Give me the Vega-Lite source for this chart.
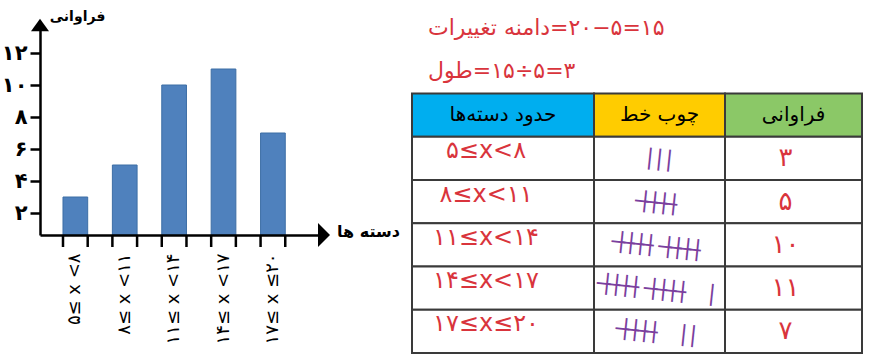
{
  "$schema": "https://vega.github.io/schema/vega-lite/v6.json",
  "width": 873,
  "height": 356,
  "autosize": {"type": "none"},
  "padding": 0,
  "background": "white",
  "config": {"view": {"stroke": null}, "font": "DejaVu Sans", "text": {"font": "DejaVu Sans"}},
  "datasets": {
    "bars": [
      {"cls": "۵≤ x <۸", "freq": 3},
      {"cls": "۸≤ x <۱۱", "freq": 5},
      {"cls": "۱۱≤ x <۱۴", "freq": 10},
      {"cls": "۱۴≤ x <۱۷", "freq": 11},
      {"cls": "۱۷≤ x ≤۲۰", "freq": 7}
    ],
    "cells": [
      {"col": "c1", "row": "h", "text": "حدود دسته‌ها"},
      {"col": "c2", "row": "h", "text": "چوب خط"},
      {"col": "c3", "row": "h", "text": "فراوانی"},
      {"col": "c1", "row": "r1", "text": "۵≤x<۸"},
      {"col": "c1", "row": "r2", "text": "۸≤x<۱۱"},
      {"col": "c1", "row": "r3", "text": "۱۱≤x<۱۴"},
      {"col": "c1", "row": "r4", "text": "۱۴≤x<۱۷"},
      {"col": "c1", "row": "r5", "text": "۱۷≤x≤۲۰"},
      {"col": "c2", "row": "r1", "text": "|\u200a|\u200a|"},
      {"col": "c2", "row": "r2", "text": "|\u0336\u200a|\u0336\u200a|\u0336\u200a|\u0336"},
      {"col": "c2", "row": "r3", "text": "|\u0336\u200a|\u0336\u200a|\u0336\u200a|\u0336\u2002|\u0336\u200a|\u0336\u200a|\u0336\u200a|\u0336"},
      {"col": "c2", "row": "r4", "text": "|\u0336\u200a|\u0336\u200a|\u0336\u200a|\u0336\u2002|\u0336\u200a|\u0336\u200a|\u0336\u200a|\u0336\u2003|"},
      {"col": "c2", "row": "r5", "text": "|\u0336\u200a|\u0336\u200a|\u0336\u200a|\u0336\u2003|\u200a|"},
      {"col": "c3", "row": "r1", "text": "۳"},
      {"col": "c3", "row": "r2", "text": "۵"},
      {"col": "c3", "row": "r3", "text": "۱۰"},
      {"col": "c3", "row": "r4", "text": "۱۱"},
      {"col": "c3", "row": "r5", "text": "۷"}
    ],
    "notes": [
      {"col": "c1", "row": "t1", "text": "دامنه تغییرات\u200e=۲۰−۵=۱۵"},
      {"col": "c1", "row": "t2", "text": "طول\u200e=۱۵÷۵=۳"}
    ],
    "arrows": [{"axis": "x"}, {"axis": "y"}]
  },
  "layer": [
    {
      "data": {"name": "bars"},
      "mark": {"type": "bar", "fill": "#4f81bd", "stroke": "#3d6ea5", "strokeWidth": 1},
      "encoding": {
        "x": {
          "field": "cls", "type": "nominal", "sort": null,
          "scale": {"range": [40, 324], "paddingInner": 0.5, "paddingOuter": 0.625, "align": 0.3725},
          "axis": {
            "orient": "bottom", "offset": -121, "zindex": 1,
            "ticks": false, "tickSize": 0,
            "domainColor": "black", "domainWidth": 2.5,
            "labelAngle": -90, "labelPadding": 18, "labelFontSize": 18, "labelColor": "black",
            "labelFont": "DejaVu Sans", "labelOverlap": false, "labelBound": false,
            "title": "دسته ها", "titleX": 368, "titleY": -4, "titleAngle": 0,
            "titleAlign": "center", "titleBaseline": "middle", "titleFontSize": 16,
            "titleFontWeight": "bold", "titleColor": "black", "titleFont": "DejaVu Sans"
          }
        },
        "y": {
          "field": "freq", "type": "quantitative",
          "scale": {"domain": [0.625, 13.75], "range": [235, 25], "nice": false, "zero": false},
          "axis": {
            "orient": "left", "offset": -40, "zindex": 1,
            "values": [2, 4, 6, 8, 10, 12], "grid": false,
            "tickSize": 10, "tickWidth": 2.5, "tickColor": "black",
            "domainColor": "black", "domainWidth": 2.5,
            "labelPadding": 3, "labelFontSize": 21, "labelFontWeight": "bold", "labelColor": "black",
            "labelFont": "DejaVu Sans", "labelFlush": false,
            "labelExpr": "replace(replace(replace(replace(replace(replace(datum.label,'0','۰'),'1','۱'),'2','۲'),'4','۴'),'6','۶'),'8','۸')",
            "title": "فراوانی", "titleX": 37, "titleY": 16, "titleAngle": 0,
            "titleAlign": "center", "titleBaseline": "middle", "titleFontSize": 14,
            "titleFontWeight": "bold", "titleColor": "black", "titleFont": "DejaVu Sans"
          }
        },
        "y2": {"datum": 0.625}
      }
    },
    {
      "data": {"name": "bars"},
      "mark": {"type": "rule", "color": "black", "strokeWidth": 2.5},
      "encoding": {
        "x": {"field": "cls", "type": "nominal", "sort": null, "bandPosition": 0,
              "scale": {"range": [40, 324], "paddingInner": 0.5, "paddingOuter": 0.625, "align": 0.3725}, "axis": null},
        "y": {"datum": 0.625, "type": "quantitative",
              "scale": {"domain": [0.625, 13.75], "range": [235, 25], "nice": false, "zero": false}, "axis": null},
        "y2": {"datum": -0.125}
      }
    },
    {
      "data": {"name": "bars"},
      "mark": {"type": "rule", "color": "black", "strokeWidth": 2.5},
      "encoding": {
        "x": {"field": "cls", "type": "nominal", "sort": null, "bandPosition": 1,
              "scale": {"range": [40, 324], "paddingInner": 0.5, "paddingOuter": 0.625, "align": 0.3725}, "axis": null},
        "y": {"datum": 0.625, "type": "quantitative",
              "scale": {"domain": [0.625, 13.75], "range": [235, 25], "nice": false, "zero": false}, "axis": null},
        "y2": {"datum": -0.125}
      }
    },
    {
      "data": {"name": "arrows"},
      "transform": [{"filter": "datum.axis == 'x'"}],
      "mark": {"type": "point", "shape": "M-0.5,-1L0.5,0L-0.5,1Z", "filled": true, "color": "black", "opacity": 1, "size": 576},
      "encoding": {
        "x": {"datum": 1, "type": "quantitative", "scale": {"domain": [0, 1], "range": [40, 324]}, "axis": null},
        "y": {"datum": 0, "type": "quantitative", "scale": {"domain": [0, 1], "range": [235, 25]}, "axis": null}
      }
    },
    {
      "data": {"name": "arrows"},
      "transform": [{"filter": "datum.axis == 'y'"}],
      "mark": {"type": "point", "shape": "M-1,0.7L0,-0.7L1,0.7Z", "filled": true, "color": "black", "opacity": 1, "size": 324},
      "encoding": {
        "x": {"datum": 0, "type": "quantitative", "scale": {"domain": [0, 1], "range": [40, 324]}, "axis": null},
        "y": {"datum": 1, "type": "quantitative", "scale": {"domain": [0, 1], "range": [235, 25]}, "axis": null}
      }
    },
    {
      "layer": [
        {
          "data": {"name": "cells"},
          "transform": [{"filter": "datum.col == 'c1'"}],
          "mark": {"type": "rect", "stroke": "#3a3a3a", "strokeWidth": 2},
          "encoding": {
            "x": {"field": "col", "type": "nominal", "scale": {"domain": ["c1"], "range": [412, 594], "paddingInner": 0, "paddingOuter": 0}, "axis": null},
            "y": {"field": "row", "type": "nominal", "scale": {"domain": ["t1", "t2", "h", "r1", "r2", "r3", "r4", "r5"], "range": [7, 353], "paddingInner": 0, "paddingOuter": 0}, "axis": null},
            "fill": {"condition": {"test": "datum.row == 'h'", "value": "#00aeef"}, "value": "white"}
          }
        },
        {
          "data": {"name": "cells"},
          "transform": [{"filter": "datum.col == 'c1' && datum.row == 'h'"}],
          "mark": {"type": "text", "fontSize": 20, "color": "black"},
          "encoding": {
            "x": {"field": "col", "type": "nominal", "axis": null},
            "y": {"field": "row", "type": "nominal", "axis": null},
            "text": {"field": "text"}
          }
        },
        {
          "data": {"name": "cells"},
          "transform": [{"filter": "datum.col == 'c1' && datum.row != 'h'"}],
          "mark": {"type": "text", "fontSize": 24, "color": "#d9343c", "dx": -17, "dy": -7},
          "encoding": {
            "x": {"field": "col", "type": "nominal", "axis": null},
            "y": {"field": "row", "type": "nominal", "axis": null},
            "text": {"field": "text"}
          }
        },
        {
          "data": {"name": "notes"},
          "mark": {"type": "text", "fontSize": 22, "color": "#d9343c", "align": "left", "dx": 16, "dy": -1},
          "encoding": {
            "x": {"field": "col", "type": "nominal", "bandPosition": 0, "axis": null},
            "y": {"field": "row", "type": "nominal", "axis": null},
            "text": {"field": "text"}
          }
        }
      ]
    },
    {
      "data": {"name": "cells"},
      "layer": [
        {
          "transform": [{"filter": "datum.col == 'c2'"}],
          "mark": {"type": "rect", "stroke": "#3a3a3a", "strokeWidth": 2},
          "encoding": {
            "x": {"field": "col", "type": "nominal", "scale": {"domain": ["c2"], "range": [594, 725], "paddingInner": 0, "paddingOuter": 0}, "axis": null},
            "y": {"field": "row", "type": "nominal", "scale": {"domain": ["t1", "t2", "h", "r1", "r2", "r3", "r4", "r5"], "range": [7, 353], "paddingInner": 0, "paddingOuter": 0}, "axis": null},
            "fill": {"condition": {"test": "datum.row == 'h'", "value": "#ffcc00"}, "value": "white"}
          }
        },
        {
          "transform": [{"filter": "datum.col == 'c2' && datum.row == 'h'"}],
          "mark": {"type": "text", "fontSize": 20, "color": "black"},
          "encoding": {
            "x": {"field": "col", "type": "nominal", "axis": null},
            "y": {"field": "row", "type": "nominal", "axis": null},
            "text": {"field": "text"}
          }
        },
        {
          "transform": [{"filter": "datum.col == 'c2' && datum.row != 'h'"}],
          "mark": {"type": "text", "fontSize": 22, "angle": 6, "color": "#7b3f9e"},
          "encoding": {
            "x": {"field": "col", "type": "nominal", "axis": null},
            "y": {"field": "row", "type": "nominal", "axis": null},
            "text": {"field": "text"}
          }
        }
      ]
    },
    {
      "data": {"name": "cells"},
      "layer": [
        {
          "transform": [{"filter": "datum.col == 'c3'"}],
          "mark": {"type": "rect", "stroke": "#3a3a3a", "strokeWidth": 2},
          "encoding": {
            "x": {"field": "col", "type": "nominal", "scale": {"domain": ["c3"], "range": [725, 862], "paddingInner": 0, "paddingOuter": 0}, "axis": null},
            "y": {"field": "row", "type": "nominal", "scale": {"domain": ["t1", "t2", "h", "r1", "r2", "r3", "r4", "r5"], "range": [7, 353], "paddingInner": 0, "paddingOuter": 0}, "axis": null},
            "fill": {"condition": {"test": "datum.row == 'h'", "value": "#8bc867"}, "value": "white"}
          }
        },
        {
          "transform": [{"filter": "datum.col == 'c3' && datum.row == 'h'"}],
          "mark": {"type": "text", "fontSize": 20, "color": "black"},
          "encoding": {
            "x": {"field": "col", "type": "nominal", "axis": null},
            "y": {"field": "row", "type": "nominal", "axis": null},
            "text": {"field": "text"}
          }
        },
        {
          "transform": [{"filter": "datum.col == 'c3' && datum.row != 'h'"}],
          "mark": {"type": "text", "fontSize": 26, "color": "#d9343c", "dx": -8},
          "encoding": {
            "x": {"field": "col", "type": "nominal", "axis": null},
            "y": {"field": "row", "type": "nominal", "axis": null},
            "text": {"field": "text"}
          }
        }
      ]
    }
  ],
  "resolve": {"scale": {"x": "independent", "y": "independent"}}
}
